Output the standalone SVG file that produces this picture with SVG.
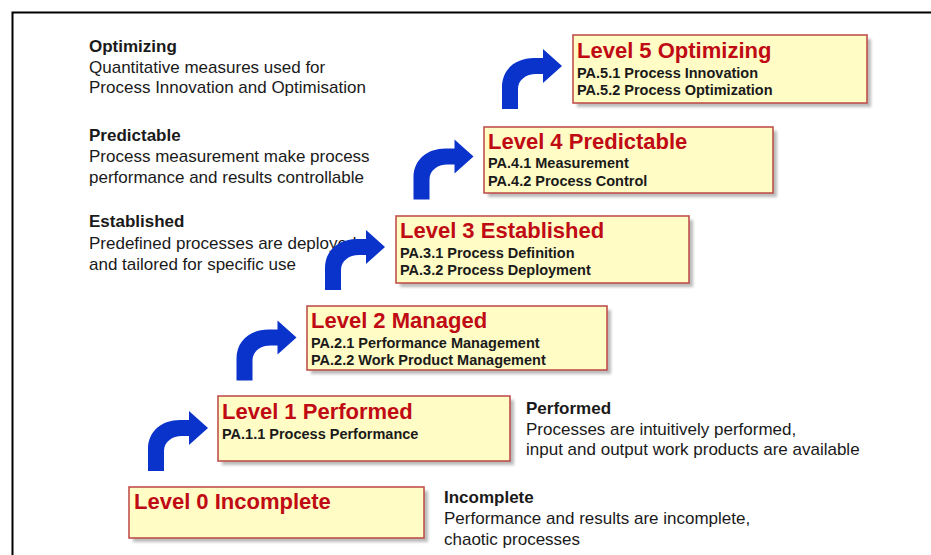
<svg xmlns="http://www.w3.org/2000/svg" width="931" height="555" viewBox="0 0 931 555">
<style>
.box{fill:#fffcc6;stroke:#c0504d;stroke-width:1.6}
.sh{fill:#8c8c8c;opacity:0.6}
.ttl{font-family:"Liberation Sans",Arial,sans-serif;font-weight:bold;font-size:22px;fill:#c00a14}
.sub{font-family:"Liberation Sans",Arial,sans-serif;font-weight:bold;font-size:14.5px;fill:#1a1a1a}
.hd{font-family:"Liberation Sans",Arial,sans-serif;font-weight:bold;font-size:17px;fill:#1a1a1a}
.tx{font-family:"Liberation Sans",Arial,sans-serif;font-size:17px;fill:#1a1a1a}
.arr{fill:#0a33cc}
</style>
<defs>
<filter id="blur" x="-10%" y="-10%" width="120%" height="130%"><feGaussianBlur stdDeviation="1.5"/></filter>
<path id="arrow" d="M0,0 V-22 C0,-40 14,-51 32,-51 H41 V-60 L60,-43 L41,-26 V-35 H34 C24,-35 16,-29 16,-20 V0 Z"/>
</defs>
<rect width="931" height="555" fill="#ffffff"/>
<path d="M12.5,555 V12.5 H931" fill="none" stroke="#000" stroke-width="2"/>

<g id="desc-optimizing">
<text class="hd" x="89" y="52">Optimizing</text>
<text class="tx" x="89" y="73">Quantitative measures used for</text>
<text class="tx" x="89" y="93">Process Innovation and Optimisation</text>
</g>
<g id="desc-predictable">
<text class="hd" x="89" y="141">Predictable</text>
<text class="tx" x="89" y="162">Process measurement make process</text>
<text class="tx" x="89" y="183">performance and results controllable</text>
</g>
<g id="desc-established">
<text class="hd" x="89" y="227">Established</text>
<text class="tx" x="89" y="249">Predefined processes are deployed</text>
<text class="tx" x="89" y="270">and tailored for specific use</text>
</g>
<g id="desc-performed">
<text class="hd" x="526" y="414">Performed</text>
<text class="tx" x="526" y="435">Processes are intuitively performed,</text>
<text class="tx" x="526" y="455">input and output work products are available</text>
</g>
<g id="desc-incomplete">
<text class="hd" x="444" y="503">Incomplete</text>
<text class="tx" x="444" y="524">Performance and results are incomplete,</text>
<text class="tx" x="444" y="545">chaotic processes</text>
</g>

<g id="connectors">
<use href="#arrow" class="arr" x="148" y="471"/>
<use href="#arrow" class="arr" x="236.5" y="380.5"/>
<use href="#arrow" class="arr" x="325" y="290"/>
<use href="#arrow" class="arr" x="413.5" y="199.5"/>
<use href="#arrow" class="arr" x="502" y="109"/>
</g>

<g id="level5">
<rect class="sh" x="577" y="39" width="294" height="68" filter="url(#blur)"/>
<rect class="box" x="573" y="35" width="294" height="68"/>
<text class="ttl" x="577" y="58">Level 5 Optimizing</text>
<text class="sub" x="577" y="78">PA.5.1 Process Innovation</text>
<text class="sub" x="577" y="95">PA.5.2 Process Optimization</text>
</g>
<g id="level4">
<rect class="sh" x="488" y="131" width="289" height="66" filter="url(#blur)"/>
<rect class="box" x="484" y="127" width="289" height="66"/>
<text class="ttl" x="488" y="149">Level 4 Predictable</text>
<text class="sub" x="488" y="168">PA.4.1 Measurement</text>
<text class="sub" x="488" y="186">PA.4.2 Process Control</text>
</g>
<g id="level3">
<rect class="sh" x="400" y="220" width="293" height="67" filter="url(#blur)"/>
<rect class="box" x="396" y="216" width="293" height="67"/>
<text class="ttl" x="400" y="238">Level 3 Established</text>
<text class="sub" x="400" y="258">PA.3.1 Process Definition</text>
<text class="sub" x="400" y="275">PA.3.2 Process Deployment</text>
</g>
<g id="level2">
<rect class="sh" x="311" y="310" width="300" height="64" filter="url(#blur)"/>
<rect class="box" x="307" y="306" width="300" height="64"/>
<text class="ttl" x="311" y="328">Level 2 Managed</text>
<text class="sub" x="311" y="348">PA.2.1 Performance Management</text>
<text class="sub" x="311" y="365">PA.2.2 Work Product Management</text>
</g>
<g id="level1">
<rect class="sh" x="222" y="400" width="292" height="65" filter="url(#blur)"/>
<rect class="box" x="218" y="396" width="292" height="65"/>
<text class="ttl" x="222" y="419">Level 1 Performed</text>
<text class="sub" x="222" y="439">PA.1.1 Process Performance</text>
</g>
<g id="level0">
<rect class="sh" x="133" y="491" width="295" height="51" filter="url(#blur)"/>
<rect class="box" x="129" y="487" width="295" height="51"/>
<text class="ttl" x="134" y="509">Level 0 Incomplete</text>
</g>
</svg>
